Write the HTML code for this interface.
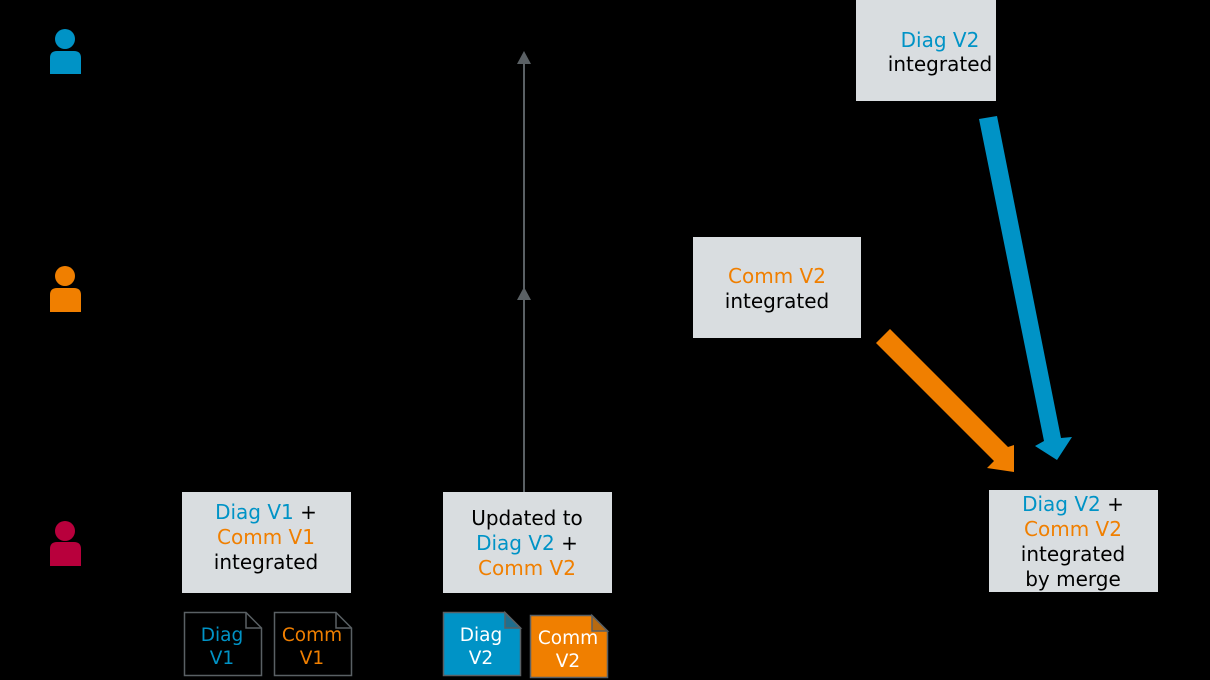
<!DOCTYPE html>
<html><head><meta charset="utf-8"><style>
html,body{margin:0;padding:0;background:#000;}
svg{display:block;}
text{font-family:"DejaVu Sans","Liberation Sans",sans-serif;}
</style></head><body>
<svg width="1210" height="680" viewBox="0 0 1210 680" xmlns="http://www.w3.org/2000/svg">
<rect width="1210" height="680" fill="#000"/>
<g fill="#0093c6"><circle cx="65" cy="39" r="10"/><path d="M50 74 V58 Q50 51 57 51 H74 Q81 51 81 58 V74 Z"/></g>
<g fill="#f07f00"><circle cx="65" cy="276" r="10"/><path d="M50 312 V295 Q50 288 57 288 H74 Q81 288 81 295 V312 Z"/></g>
<g fill="#b8003c"><circle cx="65" cy="531" r="10"/><path d="M50 566 V549 Q50 542 57 542 H74 Q81 542 81 549 V566 Z"/></g>

<line x1="524" y1="492" x2="524" y2="62" stroke="#5a6064" stroke-width="2"/>
<polygon points="524,51 517,64 531,64" fill="#5a6064"/>
<polygon points="524,287 517,300 531,300" fill="#5a6064"/>

<g fill="#d9dde0">
<rect x="856" y="0" width="140" height="101"/>
<rect x="693" y="237" width="168" height="101"/>
<rect x="182" y="492" width="169" height="101"/>
<rect x="443" y="492" width="169" height="101"/>
<rect x="989" y="490" width="169" height="102"/>
</g>
<g font-size="20" text-anchor="middle" fill="#000">
<text x="940" y="47" fill="#0093c6">Diag V2</text>
<text x="940" y="71">integrated</text>
<text x="777" y="283" fill="#f07f00">Comm V2</text>
<text x="777" y="308">integrated</text>
<text x="266" y="519"><tspan fill="#0093c6">Diag V1</tspan> +</text>
<text x="266" y="544" fill="#f07f00">Comm V1</text>
<text x="266" y="569">integrated</text>
<text x="527" y="525">Updated to</text>
<text x="527" y="550"><tspan fill="#0093c6">Diag V2</tspan> +</text>
<text x="527" y="575" fill="#f07f00">Comm V2</text>
<text x="1073" y="511"><tspan fill="#0093c6">Diag V2</tspan> +</text>
<text x="1073" y="536" fill="#f07f00">Comm V2</text>
<text x="1073" y="561">integrated</text>
<text x="1073" y="586">by merge</text>
</g>

<polygon points="876,343 890,329 1008,447 1014,445 1014,472 987,468 994,461" fill="#f07f00"/>
<polygon points="979,119 997,116 1061,438 1072,437 1057,460 1035,446 1044,441" fill="#0093c6"/>

<g stroke="#5a6064" stroke-width="1.5">
<path d="M184.5 612.5 H246 L261.5 628 V675.5 H184.5 Z" fill="#000"/>
<path d="M246 612.5 V628 H261.5" fill="none"/>
<path d="M274.5 612.5 H336 L351.5 628 V675.5 H274.5 Z" fill="#000"/>
<path d="M336 612.5 V628 H351.5" fill="none"/>
<path d="M443.5 612.5 H505 L520.5 628 V675.5 H443.5 Z" fill="#0093c6"/>
<path d="M505 612.5 V628 H520.5 Z" fill="#1f6f8f"/>
<path d="M530.5 615.5 H592 L607.5 631 V677.5 H530.5 Z" fill="#f07f00"/>
<path d="M592 615.5 V631 H607.5 Z" fill="#b86a10"/>
</g>
<g font-size="18.5" text-anchor="middle">
<text x="222" y="641" fill="#0093c6">Diag</text>
<text x="222" y="664" fill="#0093c6">V1</text>
<text x="312" y="641" fill="#f07f00">Comm</text>
<text x="312" y="664" fill="#f07f00">V1</text>
<text x="481" y="641" fill="#fff">Diag</text>
<text x="481" y="664" fill="#fff">V2</text>
<text x="568" y="644" fill="#fff">Comm</text>
<text x="568" y="667" fill="#fff">V2</text>
</g>
</svg>
</body></html>
